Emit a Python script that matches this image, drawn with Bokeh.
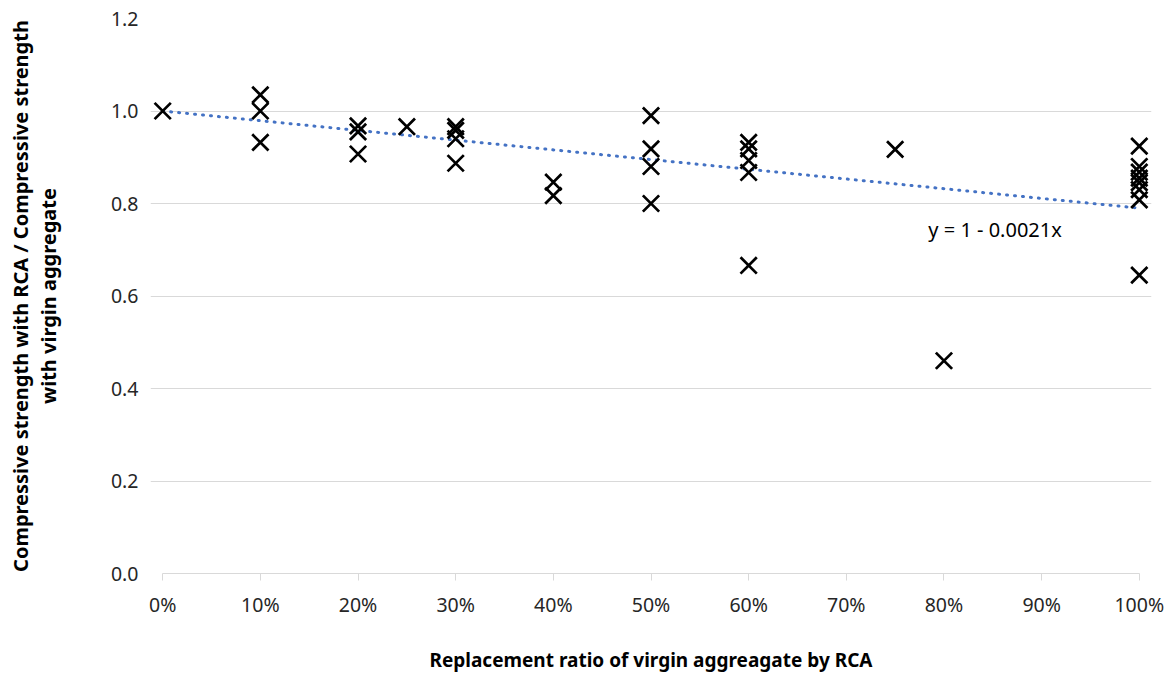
from bokeh.plotting import figure
from bokeh.models import FixedTicker, Label, Range1d, Title
from bokeh.embed import file_html
from bokeh.resources import INLINE

# Replacement ratio (%) and strength ratio
ratio_pct = [0,
             10, 10, 10,
             20, 20, 20,
             25,
             30, 30, 30, 30,
             40, 40,
             50, 50, 50, 50,
             60, 60, 60, 60, 60,
             75,
             80,
             100, 100, 100, 100, 100, 100, 100, 100]
strength_ratio = [1.0,
                  1.035, 1.0, 0.932,
                  0.968, 0.955, 0.907,
                  0.966,
                  0.966, 0.958, 0.94, 0.887,
                  0.846, 0.817,
                  0.99, 0.918, 0.88, 0.80,
                  0.932, 0.918, 0.893, 0.867, 0.666,
                  0.917,
                  0.46,
                  0.924, 0.88, 0.868, 0.855, 0.845, 0.83, 0.808, 0.645]

# Linear trend line y = 1 - 0.0021x
trend_intercept = 1.0
trend_slope = -0.0021
trend_x = [0, 100]
trend_y = [trend_intercept + trend_slope * v for v in trend_x]
trend_text = "y = 1 - 0.0021x"

x_ticks = [0, 10, 20, 30, 40, 50, 60, 70, 80, 90, 100]
x_tick_labels = ["0%", "10%", "20%", "30%", "40%", "50%", "60%", "70%", "80%", "90%", "100%"]
y_ticks = [0.0, 0.2, 0.4, 0.6, 0.8, 1.0, 1.2]
y_tick_labels = ["0.0", "0.2", "0.4", "0.6", "0.8", "1.0", "1.2"]
y_title_lines = ["Compressive strength with RCA / Compressive strength", "with virgin aggregate"]
x_title = "Replacement ratio of virgin aggreagate by RCA"

FONT = "Noto Sans"

p = figure(width=1172, height=677, output_backend="svg", toolbar_location=None,
           x_range=Range1d(-1.25, 101.25), y_range=Range1d(0, 1.2),
           min_border_left=150, min_border_right=21, min_border_top=18, min_border_bottom=104)
p.outline_line_color = None
p.background_fill_color = "white"
p.border_fill_color = "white"

# grid
p.xgrid.grid_line_color = None
p.ygrid.grid_line_color = "#D9D9D9"
p.ygrid.grid_line_width = 1
p.ygrid.bounds = (0, 100)

# x axis
p.xaxis.bounds = (0, 100)
p.xaxis.ticker = FixedTicker(ticks=x_ticks)
p.xaxis.major_label_overrides = {t: l for t, l in zip(x_ticks, x_tick_labels)}
p.xaxis.axis_line_color = "#D9D9D9"
p.xaxis.axis_line_width = 1
p.xaxis.major_tick_line_color = "#D9D9D9"
p.xaxis.major_tick_out = 7
p.xaxis.major_tick_in = 0
p.xaxis.minor_tick_line_color = None
p.xaxis.major_label_text_font = FONT
p.xaxis.major_label_text_font_size = "19.5px"
p.xaxis.major_label_text_color = "#262626"
p.xaxis.major_label_standoff = 10
p.xaxis.axis_label = x_title
p.xaxis.axis_label_text_font = FONT
p.xaxis.axis_label_text_font_style = "bold"
p.xaxis.axis_label_text_font_size = "19px"
p.xaxis.axis_label_text_color = "#000000"
p.xaxis.axis_label_standoff = 26

# y axis
p.yaxis.ticker = FixedTicker(ticks=y_ticks)
p.yaxis.major_label_overrides = {t: l for t, l in zip(y_ticks, y_tick_labels)}
p.yaxis.axis_line_color = None
p.yaxis.major_tick_line_color = None
p.yaxis.minor_tick_line_color = None
p.yaxis.major_tick_out = 0
p.yaxis.major_tick_in = 0
p.yaxis.major_label_text_font = FONT
p.yaxis.major_label_text_font_size = "19.5px"
p.yaxis.major_label_text_color = "#262626"
p.yaxis.major_label_standoff = 12
p.yaxis.axis_label = y_title_lines[1]
p.yaxis.axis_label_text_font = FONT
p.yaxis.axis_label_text_font_style = "bold"
p.yaxis.axis_label_text_font_size = "20px"
p.yaxis.axis_label_text_color = "#000000"
p.yaxis.axis_label_standoff = 46

# outer line of the y title
p.add_layout(Title(text=y_title_lines[0], align="center", text_font=FONT, text_font_size="20px",
                   text_font_style="bold", text_color="#000000", standoff=-4), "left")

# trend line
p.line(trend_x, trend_y, line_color="#4472C4", line_width=3, line_dash="1 7", line_cap="round")

# markers
p.scatter(ratio_pct, strength_ratio, marker="x", size=23, line_color="black", line_width=2.75)

p.add_layout(Label(x=78.4, y=0.744, text=trend_text, text_font=FONT, text_font_size="20px",
                   text_color="#000000", text_baseline="middle", text_align="left"))

open("out.html", "w").write(file_html(p, INLINE))
